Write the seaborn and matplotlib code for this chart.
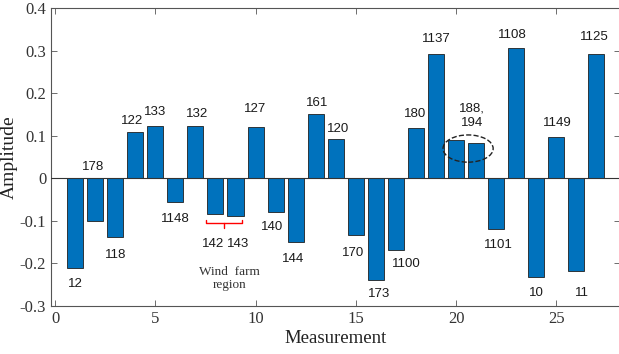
import numpy as np
import pandas as pd
import matplotlib
matplotlib.use("Agg")
import matplotlib.pyplot as plt
from matplotlib.patches import Ellipse
import seaborn as sns

# Valeurs
measurement = list(range(1, 28))
amplitude = [-0.211, -0.100, -0.137, 0.108, 0.122, -0.055, 0.122, -0.083, -0.089,
             0.121, -0.080, -0.150, 0.151, 0.093, -0.132, -0.239, -0.169, 0.118,
             0.293, 0.089, 0.083, -0.118, 0.307, -0.231, 0.097, -0.217, 0.293]

# Etiquettes des barres et leur position (texte seulement)
labels = ["12", "178", "118", "122", "133", "1148", "132", "142", "143", "127",
          "140", "144", "161", "120", "170", "173", "1100", "180", "1137",
          "188,\n194", "1101", "1108", "10", "1149", "11", "1125"]
label_x = [1.0, 1.9, 3.0, 3.85, 5.0, 6.0, 7.1, 7.9, 9.15, 10.0, 10.8, 11.85, 13.05,
           14.1, 14.85, 16.15, 17.5, 17.95, 19.0, 20.8, 22.1, 22.8, 24.0, 25.05,
           26.3, 26.9]
label_y = [-0.248, 0.026, -0.18, 0.134, 0.157, -0.096, 0.152, -0.155, -0.155, 0.164,
           -0.115, -0.19, 0.178, 0.115, -0.176, -0.272, -0.202, 0.152, 0.327, 0.148,
           -0.157, 0.337, -0.269, 0.131, -0.269, 0.333]

df = pd.DataFrame({"Measurement": measurement, "Amplitude": amplitude})

sns.set_style("ticks")
fig = plt.figure(figsize=(6.19, 3.54), dpi=100)
ax = fig.add_axes([0.0824, 0.1356, 0.92, 0.8414])

sns.barplot(data=df, x="Measurement", y="Amplitude", native_scale=True,
            color="#0072BD", saturation=1, width=0.8, edgecolor="#202020",
            linewidth=0.6, ax=ax, zorder=2)

ax.axhline(0, color="#333333", lw=0.8, zorder=3)

for t, x, y in zip(labels, label_x, label_y):
    ax.text(x, y, t, ha="center", va="center", fontsize=9.5,
            family="Liberation Sans", color="#1a1a1a", linespacing=1.3)

# Accolade rouge pour la zone du parc eolien
ax.plot([7.55, 7.55, 9.3, 9.3], [-0.097, -0.104, -0.104, -0.097], color="red", lw=1)
ax.plot([8.43, 8.43], [-0.104, -0.116], color="red", lw=1)
ax.text(8.7, -0.235, "Wind  farm\nregion", ha="center", va="center", fontsize=9.5,
        family="Liberation Serif", color="#333333", linespacing=1.15)

ax.add_patch(Ellipse((20.6, 0.070), 2.5, 0.064, fill=False, ls="--", lw=1,
                     color="#222222", zorder=4))

ax.set_xlim(-0.2, 28.2)
ax.set_ylim(-0.3, 0.4)
ax.set_xticks([0, 5, 10, 15, 20, 25])
ax.set_yticks(np.arange(-0.3, 0.41, 0.1))
ax.set_yticklabels(["-0.3", "-0.2", "-0.1", "0", "0.1", "0.2", "0.3", "0.4"])
ax.tick_params(direction="in", top=True, right=True, length=4, width=0.6,
               color="#555555", labelsize=12, labelcolor="#333333")
for lbl in ax.get_xticklabels() + ax.get_yticklabels():
    lbl.set_family("Liberation Serif")
for s in ax.spines.values():
    s.set_color("#555555")
    s.set_linewidth(0.8)

ax.set_xlabel("Measurement", family="Liberation Serif", fontsize=13.5,
              color="#222222", labelpad=2)
ax.set_ylabel("Amplitude", family="Liberation Serif", fontsize=14,
              color="#222222", labelpad=1)

fig.savefig("out.png", dpi=100)
